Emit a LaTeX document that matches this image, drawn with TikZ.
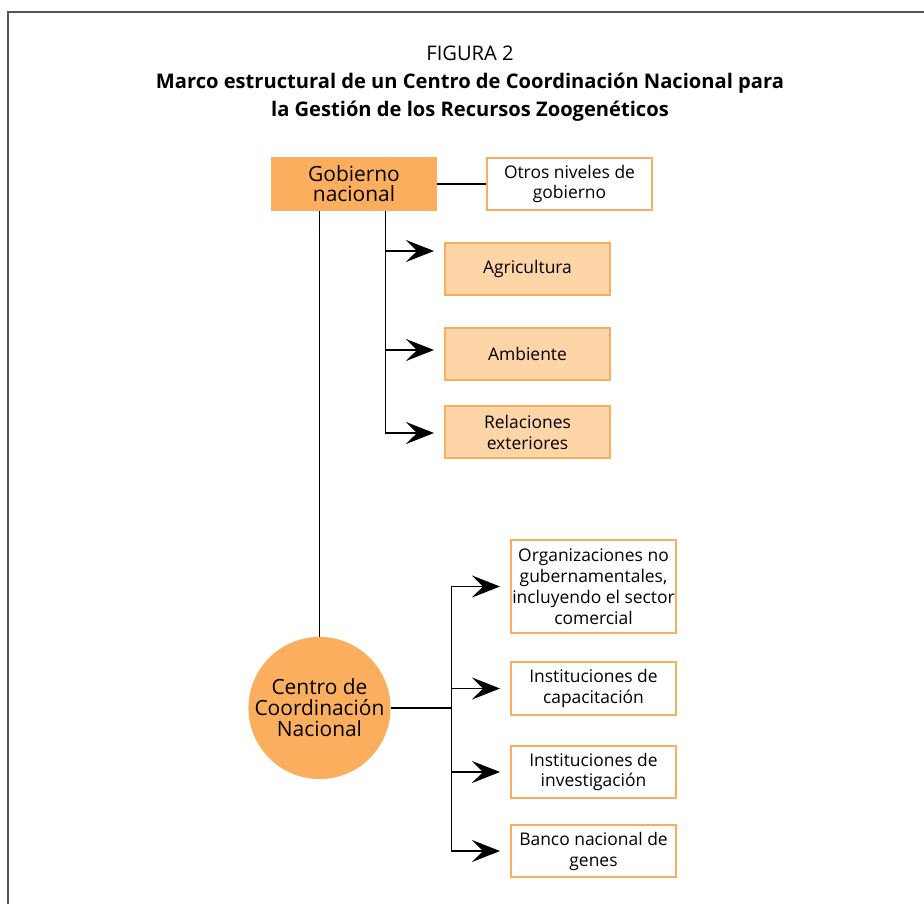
\documentclass[tikz,border=0pt]{standalone}
\usepackage{fontspec}
\setmainfont{Open Sans}
\usepackage{tikz}
\usetikzlibrary{positioning}
\usetikzlibrary{calc}
\usetikzlibrary{arrows.meta}
\definecolor{orangedark}{HTML}{FBAE5E}
\definecolor{orangelight}{HTML}{FDD5A6}
\definecolor{orangeline}{HTML}{F9AE5F}
\definecolor{framegray}{HTML}{555555}
\begin{document}
\begin{tikzpicture}
		[
			x = 1bp, y = -1bp,
			frame/.style = {draw = framegray, line width = 1.5bp},
			titletext/.style = {inner sep = 0cm, font = \fontsize{20.2}{28}\selectfont, align = center},
			govbox/.style = {rectangle, fill = orangedark, inner sep = 0cm, minimum width = 166bp, minimum height = 54bp, font = \fontsize{21}{20}\selectfont, align = center},
			outbox/.style = {rectangle, draw = orangeline, line width = 2bp, fill = white, inner sep = 0cm, minimum width = 165bp, minimum height = 52bp, font = \fontsize{17.5}{21}\selectfont, align = center},
			minbox/.style = {outbox, fill = orangelight},
			centre/.style = {circle, fill = orangedark, inner sep = 0cm, minimum size = 141bp, font = \fontsize{21}{21}\selectfont, align = center},
			link/.style = {draw = black, line width = 1.3bp},
			arrowlink/.style = {link, -{Stealth[length = 28bp, width = 22bp, inset = 11bp]}},
		]
			%
			\useasboundingbox (0,0) rectangle (924,904);
			\draw [frame] (924,12) -- (8,12) -- (8,904);
			%
			\node (title) [titletext] at (470,83.5) {FIGURA 2\\\textbf{Marco estructural de un Centro de Coordinación Nacional para}\\\textbf{la Gestión de los Recursos Zoogenéticos}};
			%
			\node (gob) [govbox] at (354,184) {Gobierno\\nacional};
			\node (otros) [outbox] at (569.5,184) {Otros niveles de\\gobierno};
			\node (agri) [minbox] at (527.5,268.5) {Agricultura};
			\node (amb) [minbox] at (527.5,353.5) {Ambiente};
			\node (rel) [minbox] at (527.5,432) {Relaciones\\exteriores};
			%
			\node (centro) [centre] at (319.5,708) {Centro de\\Coordinación\\Nacional};
			\node (ong) [outbox, minimum height = 93bp] at (593.5,586.5) {Organizaciones no\\gubernamentales,\\incluyendo el sector\\comercial};
			\node (cap) [outbox, minimum height = 53bp] at (593.5,688.5) {Instituciones de\\capacitación};
			\node (inv) [outbox] at (593.5,772) {Instituciones de\\investigación};
			\node (banco) [outbox] at (593.5,851) {Banco nacional de\\genes};
			%
			\coordinate (gobbus) at ([xshift = 31.5bp]gob.south);
			\coordinate (agriin) at ([xshift = -10bp, yshift = 17.5bp]agri.west);
			\coordinate (ambin) at ([xshift = -10bp, yshift = 3.5bp]amb.west);
			\coordinate (relin) at ([xshift = -10bp, yshift = -1bp]rel.west);
			\coordinate (centrobus) at ([xshift = 61bp]centro.east);
			%
			\draw [link] (gob) -- (otros);
			\draw [link] (gob.south -| centro.north) -- (centro.north);
			\draw [arrowlink] (gobbus) |- (agriin);
			\draw [arrowlink] (gobbus) |- (ambin);
			\draw [arrowlink] (gobbus) |- (relin);
			%
			\draw [link] (centro) -- (centrobus);
			\draw [arrowlink] (centrobus) |- ([xshift = -10bp]ong.west);
			\draw [arrowlink] (centrobus) |- ([xshift = -10bp]cap.west);
			\draw [arrowlink] (centrobus) |- ([xshift = -10bp]inv.west);
			\draw [arrowlink] (centrobus) |- ([xshift = -10bp]banco.west);
			%
		\end{tikzpicture}
\end{document}
